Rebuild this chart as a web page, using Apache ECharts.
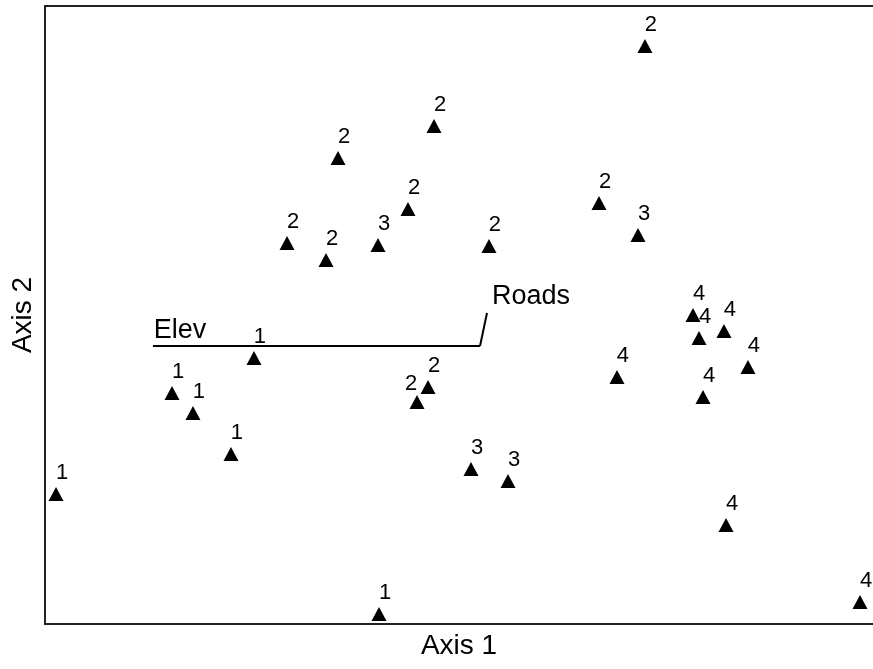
<!DOCTYPE html>
<html>
<head>
<meta charset="utf-8">
<script src="https://cdn.jsdelivr.net/npm/echarts@6/dist/echarts.min.js"></script>
<style>html,body{margin:0;padding:0;background:#fff}#c{width:873px;height:669px}</style>
</head>
<body>
<div id="c"></div>
<script>
// Ordination scores (Axis 1, Axis 2), grouped by class label
var group1 = [[1.33,21.04],[15.34,37.38],[17.87,34.14],[22.46,27.51],[25.24,43.04],[40.34,1.62]];
var group2 = [[46.98,80.58],[35.39,75.40],[43.84,67.15],[29.23,61.65],[33.94,58.90],[72.46,93.53],[66.91,68.12],[53.62,61.17],[44.93,35.92],[46.26,38.35]];
var group3 = [[40.22,61.33],[71.62,62.94],[51.45,25.08],[55.92,23.14]];
var group4 = [[69.08,39.97],[79.47,36.73],[84.90,41.59],[82.25,16.02],[98.43,3.56],[78.26,50.00],[78.99,46.28],[82.00,47.41]];
var groupNames = ['1','2','3','4'];
// Environmental vectors (biplot)
var vectorOrigin = [52.54,44.98];
var vectorNames = ['Elev','Roads'];
var vectorEnds = [[13.04,44.98],[53.38,50.32]];
var axisNames = ['Axis 1','Axis 2'];

var groups = [group1, group2, group3, group4];
var FONT = '"Liberation Sans", Arial, sans-serif';
var labelOffsets = {'Elev':[27,-15],'Roads':[44,-16]};

var series = groups.map(function(g, gi){
  return {
    type:'scatter', name: groupNames[gi], symbol:'triangle', symbolSize:[15,14],
    itemStyle:{color:'#000', opacity:1},
    label:{show:true, position:'inside', offset:[6,-21], formatter: groupNames[gi],
      color:'#000', fontSize:22, fontFamily:FONT},
    data: g.map(function(p, pi){
      var d = {value:p};
      if (gi===1 && pi===8) d.label = {offset:[-6,-18]};
      return d;
    }),
    z:3
  };
});
series.push({
  type:'lines', coordinateSystem:'cartesian2d', silent:true,
  lineStyle:{color:'#000', width:2, opacity:1},
  data: vectorEnds.map(function(e){ return {coords:[vectorOrigin, e]}; }),
  z:2
});
series.push({
  type:'scatter', symbolSize:0, silent:true,
  itemStyle:{opacity:1},
  label:{show:true, position:'inside', color:'#000', fontSize:27, fontFamily:FONT,
    formatter:function(p){return p.name;}},
  data: vectorEnds.map(function(e,i){
    return {name:vectorNames[i], value:e, label:{offset:labelOffsets[vectorNames[i]]}};
  }),
  z:4
});

var axisCommon = {
  type:'value', min:0, max:100, splitLine:{show:false},
  axisTick:{show:false}, axisLabel:{show:false},
  axisLine:{show:true, onZero:false, lineStyle:{color:'#222', width:2}}
};
var chart = echarts.init(document.getElementById('c'), null, {renderer:'canvas'});
chart.setOption({
  animation:false,
  backgroundColor:'#fff',
  grid:{left:45, right:0, top:6, bottom:45, containLabel:false},
  xAxis:[
    Object.assign({}, axisCommon, {position:'bottom', name:axisNames[0], nameLocation:'middle', nameGap:8,
      nameTextStyle:{color:'#000', fontSize:28, fontFamily:FONT, verticalAlign:'top'}}),
    Object.assign({}, axisCommon, {position:'top'})
  ],
  yAxis:[
    Object.assign({}, axisCommon, {position:'left', name:axisNames[1], nameLocation:'middle', nameGap:8,
      nameTextStyle:{color:'#000', fontSize:28, fontFamily:FONT}})
  ],
  series: series
});
</script>
</body>
</html>
